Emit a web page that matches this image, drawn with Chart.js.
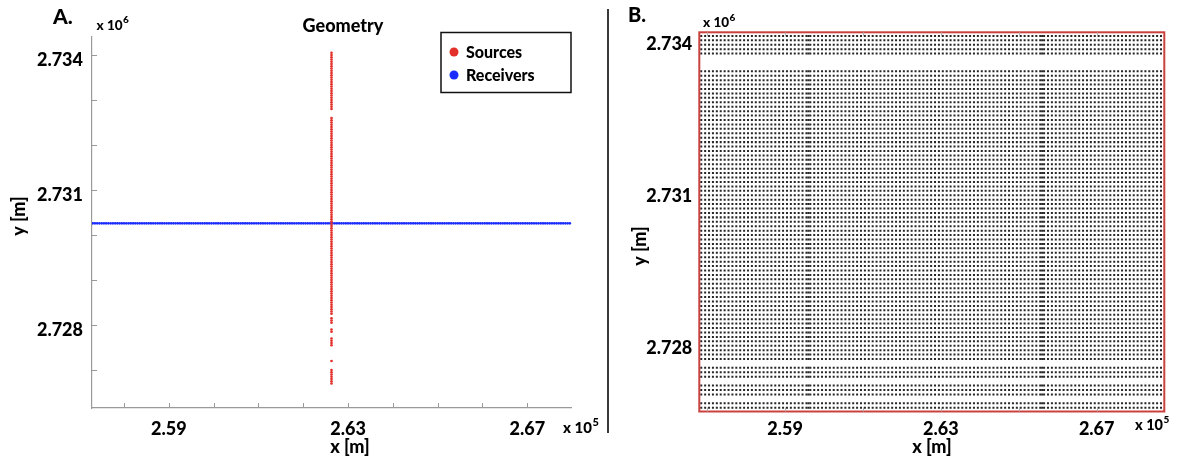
<!DOCTYPE html>
<html>
<head>
<meta charset="utf-8">
<title>Survey geometry</title>
<script src="https://cdn.jsdelivr.net/npm/chart.js@4.4.1/dist/chart.umd.min.js"></script>
<style>
  html, body { margin: 0; padding: 0; background: #fff; }
  body { width: 1179px; height: 465px; position: relative; overflow: hidden; }
  #geomA { position: absolute; left: 0; top: 0; }
  #geomB { position: absolute; left: 600px; top: 0; }
  #divider { position: absolute; left: 607px; top: 9px; width: 1.5px; height: 424px; background: #3a3a3a; }
</style>
</head>
<body>
<canvas id="geomA" width="600" height="465"></canvas>
<div id="divider"></div>
<canvas id="geomB" width="579" height="465"></canvas>
<script>
// ---- Survey coordinates (UTM, metres) ----

// Source line (single north-south line)
const sourceEasting = 262630;
const sourceNorthing = [
  2734050, 2734000, 2733950, 2733900, 2733850, 2733800, 2733750, 2733700, 2733650, 2733600,
  2733550, 2733500, 2733450, 2733400, 2733350, 2733300, 2733250, 2733200, 2733150, 2733100,
  2733050, 2733000, 2732950, 2732900, 2732850, 2732800,
  2732600, 2732550, 2732500, 2732450, 2732400, 2732350, 2732300, 2732250, 2732200, 2732150,
  2732100, 2732050, 2732000, 2731950, 2731900, 2731850, 2731800, 2731750, 2731700, 2731650,
  2731600, 2731550, 2731500, 2731450, 2731400, 2731350, 2731300, 2731250, 2731200, 2731150,
  2731100, 2731050, 2731000, 2730950, 2730900, 2730850, 2730800, 2730750, 2730700, 2730650,
  2730600, 2730550, 2730500, 2730450, 2730400, 2730350, 2730300, 2730250, 2730200, 2730150,
  2730100, 2730050, 2730000, 2729950, 2729900, 2729850, 2729800, 2729750, 2729700, 2729650,
  2729600, 2729550, 2729500, 2729450, 2729400, 2729350, 2729300, 2729250, 2729200, 2729150,
  2729100, 2729050, 2729000, 2728950, 2728900, 2728850, 2728800, 2728750, 2728700, 2728650,
  2728600, 2728550, 2728500, 2728450, 2728400, 2728350, 2728300, 2728250,
  2728150, 2728100, 2728050, 2727900, 2727850,
  2727700, 2727650, 2727600, 2727550, 2727200,
  2727000, 2726950, 2726900, 2726850, 2726800, 2726750, 2726700
];

// Receiver line (single east-west line)
const receiverNorthing = 2730260;
const receiverEasting = [
  257300, 257350, 257400, 257450, 257500, 257550, 257600, 257650, 257700, 257750, 257800, 257850, 257900, 257950,
  258000, 258050, 258100, 258150, 258200, 258250, 258300, 258350, 258400, 258450, 258500, 258550, 258600, 258650, 258700, 258750, 258800, 258850, 258900, 258950,
  259000, 259050, 259100, 259150, 259200, 259250, 259300, 259350, 259400, 259450, 259500, 259550, 259600, 259650, 259700, 259750, 259800, 259850, 259900, 259950,
  260000, 260050, 260100, 260150, 260200, 260250, 260300, 260350, 260400, 260450, 260500, 260550, 260600, 260650, 260700, 260750, 260800, 260850, 260900, 260950,
  261000, 261050, 261100, 261150, 261200, 261250, 261300, 261350, 261400, 261450, 261500, 261550, 261600, 261650, 261700, 261750, 261800, 261850, 261900, 261950,
  262000, 262050, 262100, 262150, 262200, 262250, 262300, 262350, 262400, 262450, 262500, 262550, 262600, 262650, 262700, 262750, 262800, 262850, 262900, 262950,
  263000, 263050, 263100, 263150, 263200, 263250, 263300, 263350, 263400, 263450, 263500, 263550, 263600, 263650, 263700, 263750, 263800, 263850, 263900, 263950,
  264000, 264050, 264100, 264150, 264200, 264250, 264300, 264350, 264400, 264450, 264500, 264550, 264600, 264650, 264700, 264750, 264800, 264850, 264900, 264950,
  265000, 265050, 265100, 265150, 265200, 265250, 265300, 265350, 265400, 265450, 265500, 265550, 265600, 265650, 265700, 265750, 265800, 265850, 265900, 265950,
  266000, 266050, 266100, 266150, 266200, 266250, 266300, 266350, 266400, 266450, 266500, 266550, 266600, 266650, 266700, 266750, 266800, 266850, 266900, 266950,
  267000, 267050, 267100, 267150, 267200, 267250, 267300, 267350, 267400, 267450, 267500, 267550, 267600, 267650, 267700, 267750, 267800, 267850, 267900, 267950
];

// Panel B station grid: column eastings and row northings
const gridEasting = [
  256850, 256950,
  257050, 257150, 257250, 257350, 257450, 257550, 257650, 257750, 257850, 257950,
  258050, 258150, 258250, 258350, 258450, 258550, 258650, 258750, 258850, 258950,
  259050, 259150, 259250, 259350, 259450, 259550, 259600, 259650, 259750, 259850, 259950,
  260050, 260150, 260250, 260350, 260450, 260550, 260650, 260750, 260850, 260950,
  261050, 261150, 261250, 261350, 261450, 261550, 261650, 261750, 261850, 261950,
  262050, 262150, 262250, 262350, 262450, 262550, 262650, 262750, 262850, 262950,
  263050, 263150, 263250, 263350, 263450, 263550, 263650, 263750, 263850, 263950,
  264050, 264150, 264250, 264350, 264450, 264550, 264650, 264750, 264850, 264950,
  265050, 265150, 265250, 265350, 265450, 265550, 265600, 265650, 265750, 265850, 265950,
  266050, 266150, 266250, 266350, 266450, 266550, 266650, 266750, 266850, 266950,
  267050, 267150, 267250, 267350, 267450, 267550, 267650, 267750, 267850, 267950,
  268050, 268150, 268250, 268350, 268450, 268550, 268650
];
const gridNorthing = [
  2734150, 2734062.5, 2733975, 2733887.5, 2733800,
  2733450, 2733362.5, 2733275, 2733187.5, 2733100, 2733012.5, 2732925, 2732837.5, 2732750, 2732662.5,
  2732575, 2732487.5, 2732400, 2732312.5, 2732225, 2732137.5, 2732050, 2731962.5, 2731875, 2731787.5,
  2731700, 2731612.5, 2731525, 2731437.5, 2731350, 2731262.5, 2731175, 2731087.5, 2731000, 2730912.5,
  2730825, 2730737.5, 2730650, 2730562.5, 2730475, 2730387.5, 2730300, 2730212.5, 2730125, 2730037.5,
  2729950, 2729862.5, 2729775, 2729687.5, 2729600, 2729512.5, 2729425, 2729337.5, 2729250, 2729162.5,
  2729075, 2728987.5, 2728900, 2728812.5, 2728725, 2728637.5, 2728550, 2728462.5, 2728375, 2728287.5,
  2728200, 2728112.5, 2728025, 2727937.5, 2727850, 2727762.5,
  2727587.5, 2727500, 2727412.5,
  2727237.5, 2727150, 2727062.5,
  2726887.5, 2726800
];

// ---- Axis ticks ----
const xTicksA = [258000, 259000, 260000, 261000, 262000, 263000, 264000, 265000, 266000, 267000];
const yTicksA = [2727000, 2728000, 2729000, 2730000, 2731000, 2732000, 2733000, 2734000];
const xTicksB = [257000, 259000, 261000, 263000, 265000, 267000];
const xLabelValues = [259000, 263000, 267000];
const xLabelText = ['2.59', '2.63', '2.67'];
const yLabelValues = [2728000, 2731000, 2734000];
const yLabelText = ['2.728', '2.731', '2.734'];

const FONT = 'Lato, "Open Sans", "DejaVu Sans", sans-serif';
const WEIGHT = '900';
const SOURCE_RED = '#e2302a';
const RECEIVER_BLUE = '#1a2cff';
Chart.defaults.font.family = FONT;

function labelFor(values, texts) {
  return (v) => {
    const i = values.indexOf(v);
    return i >= 0 ? texts[i] : '';
  };
}

function setTicks(list) {
  return (scale) => { scale.ticks = list.map(v => ({ value: v })); };
}

function boldText(ctx, str, x, y, size, align, rotate) {
  ctx.save();
  ctx.font = WEIGHT + ' ' + size + 'px ' + FONT;
  ctx.fillStyle = '#000';
  ctx.textAlign = align || 'left';
  ctx.textBaseline = 'alphabetic';
  if (rotate) {
    ctx.translate(x, y);
    ctx.rotate(-Math.PI / 2);
    ctx.textBaseline = 'middle';
    ctx.fillText(str, 0, 0);
  } else {
    ctx.fillText(str, x, y);
  }
  ctx.restore();
}

// "x 10^n" multiplier
function timesTen(ctx, x, y, size, exp) {
  ctx.save();
  ctx.font = WEIGHT + ' ' + size + 'px ' + FONT;
  ctx.fillStyle = '#000';
  ctx.textAlign = 'left';
  ctx.textBaseline = 'alphabetic';
  ctx.fillText('x 10', x, y);
  const w = ctx.measureText('x 10').width;
  ctx.font = WEIGHT + ' ' + Math.round(size * 0.72) + 'px ' + FONT;
  ctx.fillText(exp, x + w + 0.5, y - size * 0.45);
  ctx.restore();
}

// Inward tick marks along the axes
const inwardTicks = {
  id: 'inwardTicks',
  afterDraw(chart, args, opts) {
    const ctx = chart.ctx;
    const { left, top, right, bottom } = chart.chartArea;
    const xs = chart.scales.x, ys = chart.scales.y;
    ctx.save();
    ctx.strokeStyle = opts.color;
    ctx.lineWidth = 1;
    (opts.x || []).forEach(v => {
      const px = Math.round(xs.getPixelForValue(v)) + 0.5;
      if (opts.bottom) { ctx.beginPath(); ctx.moveTo(px, bottom); ctx.lineTo(px, bottom - opts.len); ctx.stroke(); }
      if (opts.top) { ctx.beginPath(); ctx.moveTo(px, top); ctx.lineTo(px, top + opts.len); ctx.stroke(); }
    });
    (opts.y || []).forEach(v => {
      const py = Math.round(ys.getPixelForValue(v)) + 0.5;
      ctx.beginPath(); ctx.moveTo(left, py); ctx.lineTo(left + opts.len, py); ctx.stroke();
    });
    ctx.restore();
  }
};

// Panel A annotations: panel letter, title, legend, axis titles, multipliers
const decorA = {
  id: 'decorA',
  afterDraw(chart) {
    const ctx = chart.ctx;
    boldText(ctx, 'A.', 53, 24, 21);
    timesTen(ctx, 96.5, 29.5, 13.5, '6');
    boldText(ctx, 'Geometry', 343, 32, 18, 'center');
    boldText(ctx, 'y [m]', 19, 216, 18, 'center', true);
    boldText(ctx, 'x [m]', 350, 453, 18, 'center');
    timesTen(ctx, 563, 432.5, 15, '5');

    // legend box built from the datasets
    ctx.save();
    ctx.strokeStyle = '#111';
    ctx.lineWidth = 1.5;
    ctx.strokeRect(441, 32.5, 130, 60);
    const rows = [52, 75];
    chart.data.datasets.forEach((ds, i) => {
      ctx.beginPath();
      ctx.fillStyle = ds.backgroundColor;
      ctx.arc(454, rows[i], 4.5, 0, Math.PI * 2);
      ctx.fill();
      boldText(ctx, ds.label, 466, rows[i] + 6, 16);
    });
    ctx.restore();
  }
};

// Panel B annotations and red frame
const decorB = {
  id: 'decorB',
  afterDatasetsDraw(chart) {
    const ctx = chart.ctx;
    const { left, top, right, bottom } = chart.chartArea;
    ctx.save();
    ctx.strokeStyle = '#c9423e';
    ctx.lineWidth = 2;
    ctx.strokeRect(left, top, right - left, bottom - top);
    ctx.restore();
  },
  afterDraw(chart) {
    const ctx = chart.ctx;
    boldText(ctx, 'B.', 28, 21.7, 20);
    timesTen(ctx, 103, 27, 13.5, '6');
    boldText(ctx, 'y [m]', 40, 246, 18, 'center', true);
    boldText(ctx, 'x [m]', 332, 453, 18, 'center');
    timesTen(ctx, 535, 430, 14.5, '5');
  }
};

const tickFont = { family: FONT, weight: WEIGHT, size: 18 };

// ---- Panel A: source and receiver lines ----
new Chart(document.getElementById('geomA'), {
  type: 'scatter',
  data: {
    datasets: [
      {
        label: 'Sources',
        data: sourceNorthing.map(y => ({ x: sourceEasting, y })),
        backgroundColor: SOURCE_RED,
        pointRadius: 1.35,
        borderWidth: 0
      },
      {
        label: 'Receivers',
        data: receiverEasting.map(x => ({ x, y: receiverNorthing })),
        backgroundColor: RECEIVER_BLUE,
        pointRadius: 1.35,
        borderWidth: 0
      }
    ]
  },
  options: {
    responsive: false,
    animation: false,
    devicePixelRatio: 1,
    events: [],
    layout: { padding: { left: 0, top: 37, right: 28.3, bottom: 0 } },
    plugins: {
      legend: { display: false },
      tooltip: { enabled: false },
      inwardTicks: { x: xTicksA, y: yTicksA, len: 5, color: '#9a9a9a', bottom: true }
    },
    scales: {
      x: {
        type: 'linear', min: 257284, max: 267991,
        afterFit: (s) => { s.height = 57; },
        afterBuildTicks: setTicks(xTicksA),
        grid: { display: false, drawTicks: false },
        border: { display: true, color: '#9a9a9a', width: 1.2 },
        ticks: { autoSkip: false, maxRotation: 0, padding: 10, font: tickFont, color: '#000',
                 callback: labelFor(xLabelValues, xLabelText) }
      },
      y: {
        type: 'linear', min: 2726156, max: 2734400,
        afterFit: (s) => { s.width = 92; },
        afterBuildTicks: setTicks(yTicksA),
        grid: { display: false, drawTicks: false },
        border: { display: true, color: '#9a9a9a', width: 1.2 },
        ticks: { autoSkip: false, padding: 9, labelOffset: 5, font: tickFont, color: '#000',
                 callback: labelFor(yLabelValues, yLabelText) }
      }
    }
  },
  plugins: [inwardTicks, decorA]
});

// ---- Panel B: station grid ----
const gridPoints = [];
gridNorthing.forEach(y => gridEasting.forEach(x => gridPoints.push({ x, y })));

new Chart(document.getElementById('geomB'), {
  type: 'scatter',
  data: {
    datasets: [{
      label: 'Stations',
      data: gridPoints,
      backgroundColor: '#262626',
      pointStyle: 'rect',
      pointRadius: 1.42,
      borderWidth: 0
    }]
  },
  options: {
    responsive: false,
    animation: false,
    devicePixelRatio: 1,
    events: [],
    layout: { padding: { left: 0, top: 32.3, right: 14.7, bottom: 0 } },
    plugins: {
      legend: { display: false },
      tooltip: { enabled: false },
      inwardTicks: { x: xTicksB, y: [], len: 4, color: '#b0b0b0', top: true, bottom: true }
    },
    scales: {
      x: {
        type: 'linear', min: 256800, max: 268735,
        afterFit: (s) => { s.height = 53.5; },
        afterBuildTicks: setTicks(xTicksB),
        grid: { display: false, drawTicks: false },
        border: { display: false },
        ticks: { autoSkip: false, maxRotation: 0, padding: 7, font: tickFont, color: '#000',
                 callback: labelFor(xLabelValues, xLabelText) }
      },
      y: {
        type: 'linear', min: 2726725, max: 2734221,
        afterFit: (s) => { s.width = 99.3; },
        afterBuildTicks: setTicks(yLabelValues),
        grid: { display: false, drawTicks: false },
        border: { display: false },
        ticks: { autoSkip: false, padding: 7, labelOffset: 1, font: tickFont, color: '#000',
                 callback: labelFor(yLabelValues, yLabelText) }
      }
    }
  },
  plugins: [inwardTicks, decorB]
});
</script>
</body>
</html>
